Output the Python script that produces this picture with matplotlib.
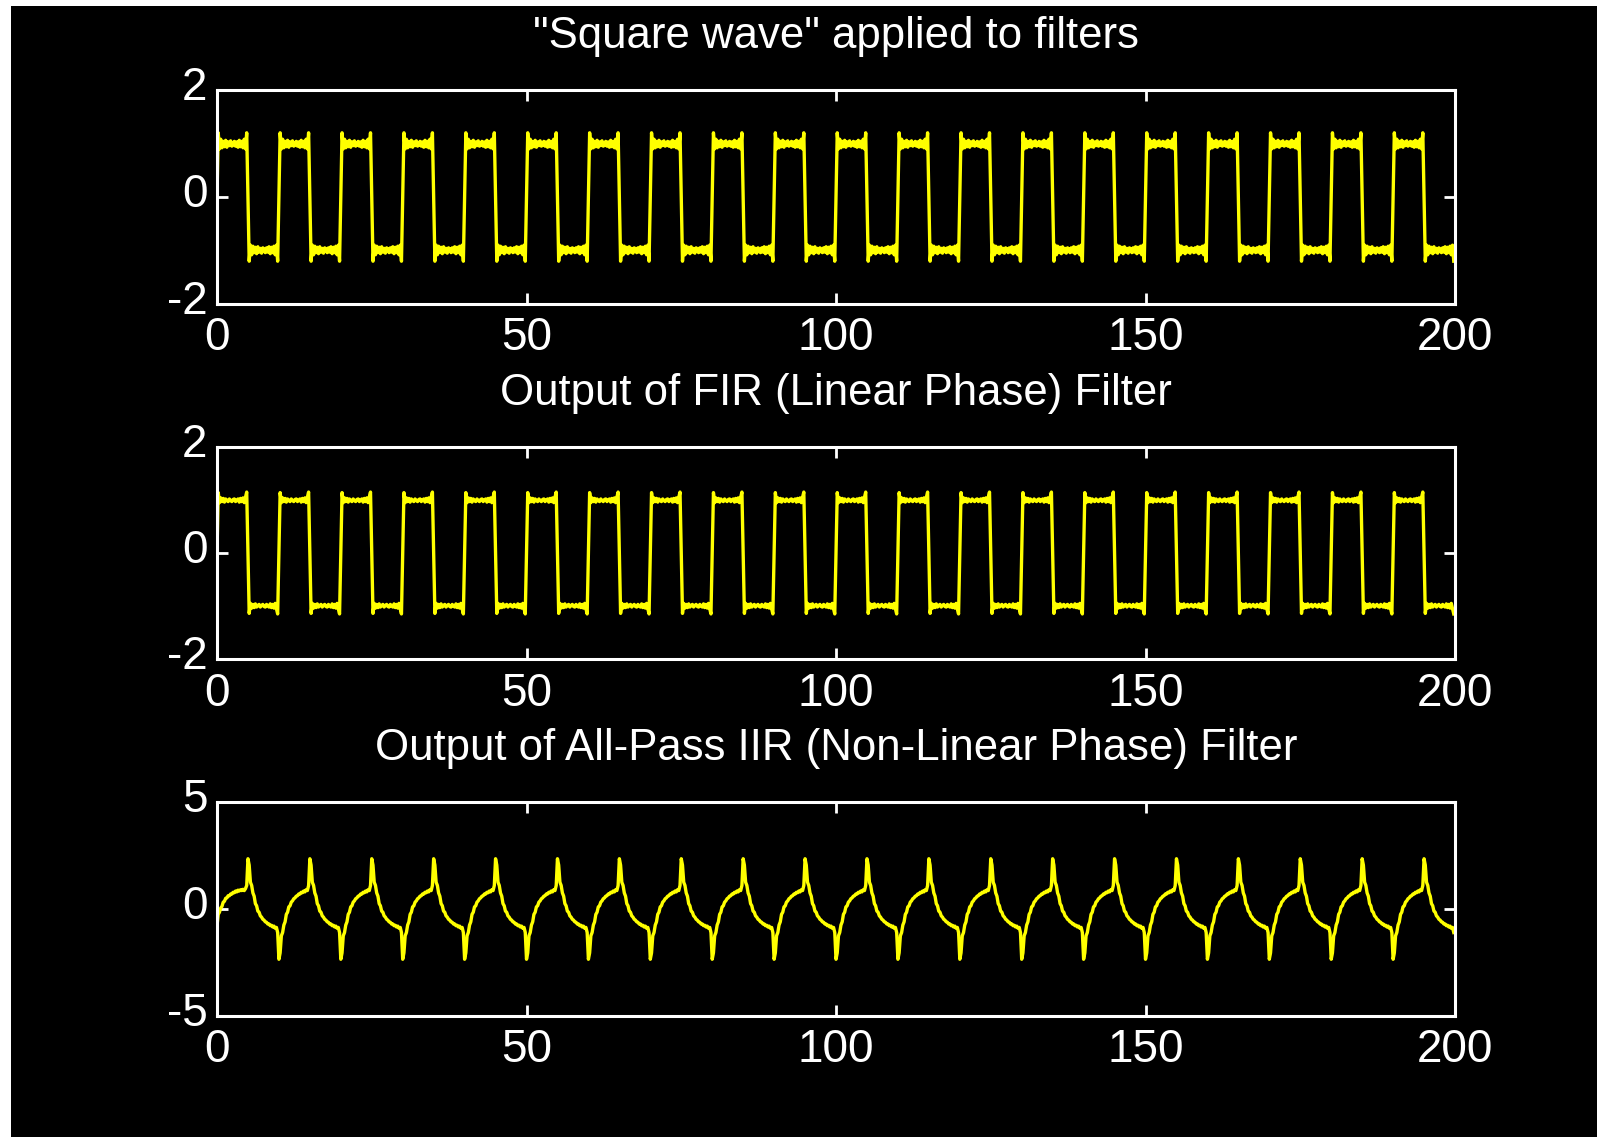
import numpy as np
import matplotlib.pyplot as plt
from matplotlib.patches import Rectangle
from matplotlib.transforms import ScaledTranslation

# sampling of the signals
dt = 0.2
n_periods = 20
period = 10

# one half period (t = 0 .. 4.8) of the input "square wave"; the other half is the negative
square_half = [0.0, 1.2, 0.9, 1.08, 0.92, 1.04, 0.94, 1.06, 0.93, 1.03, 0.96, 1.05, 0.95,
               0.97, 1.04, 0.95, 1.03, 0.93, 1.06, 0.94, 1.04, 0.92, 1.08, 0.9, 1.2]

# half period of the FIR (linear phase) output
fir_half = [0.0, 1.14, 0.95, 1.04, 0.97, 1.03, 0.96, 1.02, 0.99, 0.97, 1.02, 0.99, 0.97,
            1.01, 1.02, 0.97, 1.0, 1.02, 0.96, 1.03, 0.97, 1.04, 0.95, 1.05, 1.15]

# half period of the all-pass IIR output in steady state, and its first half period
iir_half = [-2.35, -2.05, -1.25, -1.1, -0.75, -0.6, -0.25, -0.15, 0.1, 0.15, 0.32, 0.38, 0.48,
            0.52, 0.6, 0.62, 0.7, 0.7, 0.78, 0.76, 0.84, 0.8, 0.9, 0.86, 1.1]
iir_start = [-0.8, -0.25, -0.15, 0.05, 0.12, 0.32, 0.36, 0.5, 0.52, 0.62, 0.62, 0.7, 0.7,
             0.78, 0.76, 0.84, 0.8, 0.88, 0.84, 0.9, 0.86, 0.92, 0.86, 0.95, 1.1]

titles = ['"Square wave" applied to filters',
          'Output of FIR (Linear Phase) Filter',
          'Output of All-Pass IIR (Non-Linear Phase) Filter']
ylims = [(-2, 2), (-2, 2), (-5, 5)]
yticks = [[-2, 0, 2], [-2, 0, 2], [-5, 0, 5]]
xticks = [0, 50, 100, 150, 200]


def full_wave(half, first=None):
    h = np.array(half)
    one = np.concatenate([h, -h])
    y = np.tile(one, n_periods)
    if first is not None:
        y[:len(first)] = first
    return y


t = np.arange(n_periods * int(period / dt)) * dt
x_in = full_wave(square_half)
y_fir = full_wave(fir_half)
y_iir = full_wave(iir_half, iir_start)
signals = [x_in, y_fir, y_iir]

plt.rcParams['font.family'] = ['Liberation Sans', 'DejaVu Sans']

W, H = 1597, 1137
fig = plt.figure(figsize=(W / 100, H / 100), dpi=100, facecolor='white')
fig.patches.append(Rectangle((11 / W, 0), 1 - 11 / W, 1 - 6 / H, transform=fig.transFigure,
                             facecolor='black', edgecolor='none', zorder=-10))

# axes boxes in pixels: (left, top, right, bottom)
boxes = [(217, 90, 1455, 304), (217, 447, 1455, 659), (217, 802, 1455, 1016)]

for (l, tp, r, b), y, ttl, yl, yt in zip(boxes, signals, titles, ylims, yticks):
    ax = fig.add_axes([l / W, 1 - b / H, (r - l) / W, (b - tp) / H])
    ax.set_facecolor('black')
    ax.plot(t, y, color='#ffff00', lw=2.4)
    ax.set_xlim(0, 200)
    ax.set_ylim(*yl)
    ax.set_xticks(xticks)
    ax.set_yticks(yt)
    ax.set_yticklabels([str(v) for v in yt])
    for s in ax.spines.values():
        s.set_color('white')
        s.set_linewidth(2.2)
    ax.tick_params(colors='white', direction='in', length=8, width=2.0,
                   labelsize=33, top=True, right=True, pad=9)
    ax.tick_params(axis='y', pad=7)
    for lab in ax.get_yticklabels():
        lab.set_transform(lab.get_transform() + ScaledTranslation(0, 7 / 100, fig.dpi_scale_trans))
    ax.set_title(ttl, color='white', fontsize=31.5, pad=30)

fig.savefig('out.png', dpi=100, facecolor=fig.get_facecolor())
